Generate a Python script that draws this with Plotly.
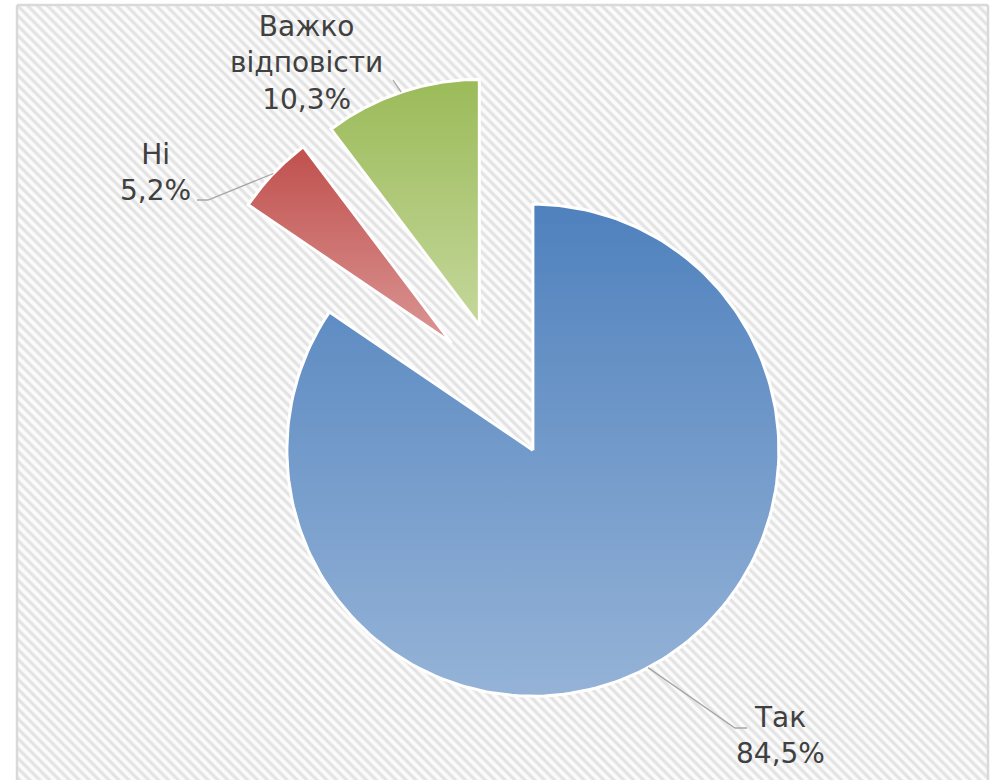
import numpy as np
import plotly.graph_objects as go

# ---- data ----
categories = ["Так", "Ні", "Важко відповісти"]
values = [84.5, 5.2, 10.3]
colors_top = ["#4F81BD", "#C0504D", "#9BBB59"]
colors_bottom = ["#95B3D7", "#DA9694", "#C4D79B"]

# ---- geometry / layout constants (pixels) ----
W, H = 999, 780
PX = 246.0          # pixels per pie radius
CX, CY = 501.0, 390.0
PULL = 0.277
TEXT_COLOR = "#404040"
FONT = "DejaVu Sans"
FS = 28

def to_data(px, py):
    return (px - CX) / PX, (CY - py) / PX

fig = go.Figure()

# striped background (xy subplot, drawn first)
fig.add_trace(go.Scatter(
    x=[0, 1, 1, 0, 0], y=[0, 0, 1, 1, 0], mode="lines", fill="toself",
    line=dict(width=0), fillcolor="#fafafa",
    fillpattern=dict(shape="\\", size=7, solidity=0.45, fgcolor="#e3e3e3",
                     bgcolor="#fbfbfb", fillmode="replace"),
    hoverinfo="skip", xaxis="x", yaxis="y", showlegend=False))

total = float(sum(values))
cum = np.concatenate([[0.0], np.cumsum(values)])
mids = []
for i, (cat, v) in enumerate(zip(categories, values)):
    a0 = 360.0 * cum[i] / total
    a1 = 360.0 * cum[i + 1] / total
    mid = (a0 + a1) / 2.0
    mids.append(mid)
    ox = PULL * np.sin(np.radians(mid))
    oy = PULL * np.cos(np.radians(mid))
    th = np.radians(np.linspace(a0, a1, 200))
    xs = np.concatenate([[ox], ox + np.sin(th), [ox]])
    ys = np.concatenate([[oy], oy + np.cos(th), [oy]])
    fig.add_trace(go.Scatter(
        x=xs, y=ys, mode="lines", fill="toself",
        line=dict(color="white", width=3),
        fillgradient=dict(type="vertical",
                          colorscale=[[0, colors_bottom[i]], [1, colors_top[i]]]),
        name=cat, hoverinfo="name", xaxis="x2", yaxis="y2", showlegend=False))

# leader lines: start at arc midpoint of each slice
elbows = {
    "Так": [(735, 728), (747, 728)],
    "Ні": [(208, 200), (197, 200)],
    "Важко відповісти": [(393, 80)],
}
label_pos = {
    "Так": (780, 735),
    "Ні": (155, 172),
    "Важко відповісти": (306, 63),
}
for i, cat in enumerate(categories):
    mid = np.radians(mids[i])
    ox = PULL * np.sin(mid)
    oy = PULL * np.cos(mid)
    sx, sy = ox + 1.0 * np.sin(mid), oy + 1.0 * np.cos(mid)
    pts = [to_data(*p) for p in elbows[cat]]
    fig.add_trace(go.Scatter(
        x=[sx] + [p[0] for p in pts], y=[sy] + [p[1] for p in pts],
        mode="lines", line=dict(color="#A6A6A6", width=1.3),
        hoverinfo="skip", xaxis="x2", yaxis="y2", showlegend=False))
    lx, ly = label_pos[cat]
    txt = cat.replace(" ", "<br>") + "<br>" + f"{values[i]:.1f}".replace(".", ",") + "%"
    fig.add_annotation(
        x=lx / W, y=1 - ly / H, xref="paper", yref="paper",
        text=txt, showarrow=False, xanchor="center", yanchor="middle",
        align="center", font=dict(family=FONT, size=FS, color=TEXT_COLOR))

# border (left, top, right)
bl, br, bt = 17 / W, 988 / W, 1 - 5 / H
for x0, y0, x1, y1 in [(bl, -0.01, bl, bt), (bl, bt, br, bt), (br, bt, br, -0.01)]:
    fig.add_shape(type="line", xref="paper", yref="paper", x0=x0, y0=y0, x1=x1, y1=y1,
                  line=dict(color="#D9D9D9", width=2.5), layer="above")

fig.update_layout(
    width=W, height=H, margin=dict(l=0, r=0, t=0, b=0),
    paper_bgcolor="white", plot_bgcolor="rgba(0,0,0,0)", showlegend=False,
    xaxis=dict(domain=[bl, br], range=[0, 1], visible=False, fixedrange=True),
    yaxis=dict(domain=[0, bt], range=[0, 1], visible=False, fixedrange=True),
    xaxis2=dict(domain=[0, 1], range=[(0 - CX) / PX, (W - CX) / PX],
                visible=False, anchor="y2", fixedrange=True),
    yaxis2=dict(domain=[0, 1], range=[(CY - H) / PX, CY / PX],
                visible=False, anchor="x2", fixedrange=True),
)

fig.write_html("out.html", config={"displayModeBar": False},
               post_script="document.body.style.margin='0';document.body.style.overflow='hidden';")
